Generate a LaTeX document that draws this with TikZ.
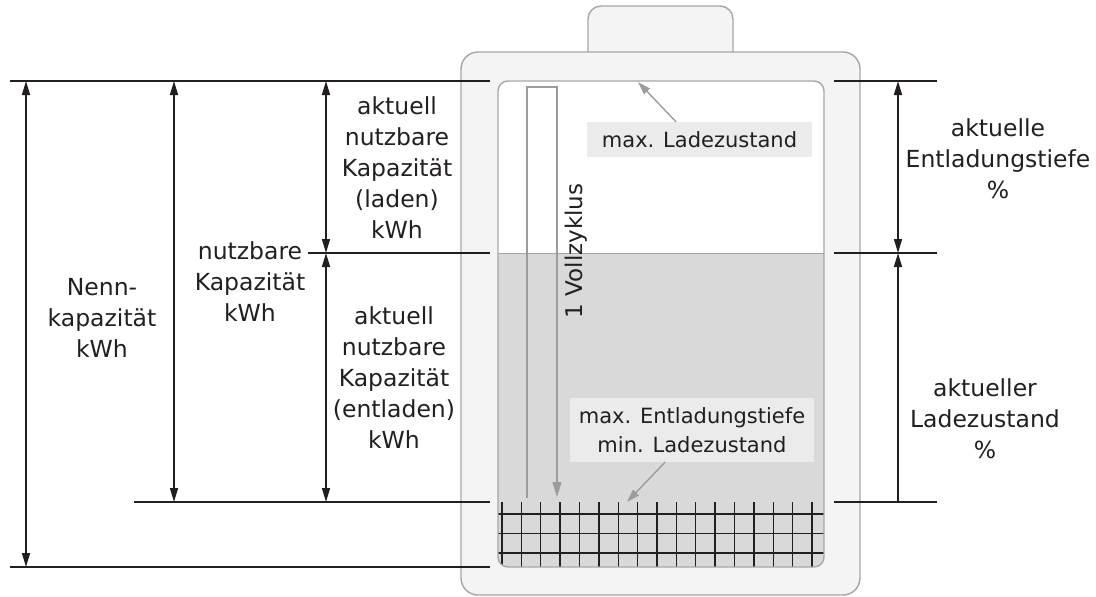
\documentclass[tikz,border=0pt]{standalone}
\usepackage{fontspec}
\setmainfont{DejaVu Sans}
\usetikzlibrary{arrows.meta}
\definecolor{ink}{HTML}{231F20}
\definecolor{casefill}{HTML}{F4F4F4}
\definecolor{caseline}{HTML}{A6A6A6}
\definecolor{charge}{HTML}{D9D9D9}
\definecolor{tagfill}{HTML}{EBEBEB}
\definecolor{pointer}{HTML}{9C9C9C}
\begin{document}
\begin{tikzpicture}[x=1pt,y=-1pt,
  dimline/.style={draw=ink,line width=1.6pt},
  dimboth/.style={draw=ink,line width=1.5pt,
    {Triangle[length=14pt,width=8pt]}-{Triangle[length=14pt,width=8pt]}},
  dimone/.style={draw=ink,line width=1.5pt,-{Triangle[length=14pt,width=8pt]}},
  dimlabel/.style={inner sep=0pt,align=center,text=ink,
    font=\fontsize{23.5pt}{31pt}\selectfont},
  tag/.style={fill=tagfill,inner sep=0pt,align=center,text=ink,
    font=\fontsize{21pt}{29pt}\selectfont},
  pointerarrow/.style={draw=pointer,line width=1.4pt,
    -{Triangle[length=13pt,width=8pt]}},
  gridline/.style={draw=ink,line width=1.4pt},
  caseedge/.style={draw=caseline,line width=1.4pt}]

\useasboundingbox (0,0) rectangle (1096,597);

% terminal cap and battery housing
\draw[caseedge,fill=casefill,rounded corners=13pt] (588,6) rectangle (733,70);
\draw[caseedge,fill=casefill,rounded corners=17pt] (461,52) rectangle (860,595);

% cell interior: empty part, charged part and reserve grid
\begin{scope}
  \clip[rounded corners=10pt] (498,81) rectangle (824,567);
  \fill[white] (498,81) rectangle (824,567);
  \fill[charge] (498,253.5) rectangle (824,567);
  \draw[caseedge] (498,253.5) -- (824,253.5);
  \foreach \i in {0,...,16}
    \draw[gridline] ({502+19.375*\i},502) -- ({502+19.375*\i},570);
  \foreach \yy in {514,533.5,553}
    \draw[gridline] (498,\yy) -- (824,\yy);
\end{scope}
\draw[caseedge,rounded corners=10pt] (498,81) rectangle (824,567);

% full cycle loop
\coordinate (vzStart) at (527,498);
\coordinate (vzUpL) at (527,87);
\coordinate (vzUpR) at (557,87);
\coordinate (vzEnd) at (557,497);
\draw[draw=pointer,line width=1.4pt,-{Triangle[length=15pt,width=9pt]}]
  (vzStart) -- (vzUpL) -- (vzUpR) -- (vzEnd);
\node[rotate=90,inner sep=0pt,text=ink,font=\fontsize{23pt}{28pt}\selectfont]
  (vz) at (576,251) {1 Vollzyklus};

% level tags with pointers
\node[tag,minimum width=225pt,minimum height=35pt] (maxsoc) at (699.5,139.5)
  {max. Ladezustand};
\coordinate (socTip) at (638,82);
\draw[pointerarrow] ([xshift=-23.5pt]maxsoc.north) -- (socTip);

\node[tag,minimum width=244pt,minimum height=64pt] (maxdod) at (692,430)
  {max. Entladungstiefe\\min. Ladezustand};
\coordinate (dodTip) at (627,502);
\draw[pointerarrow] ([xshift=-27pt]maxdod.south) -- (dodTip);

% reference levels, left side
\coordinate (topL) at (10,81);      \coordinate (topR) at (490,81);
\coordinate (midL) at (308,253);    \coordinate (midR) at (490,253);
\coordinate (lowL) at (134,502);    \coordinate (lowR) at (490,502);
\coordinate (botL) at (10,567);     \coordinate (botR) at (490,567);
\draw[dimline] (topL) -- (topR);
\draw[dimline] (midL) -- (midR);
\draw[dimline] (lowL) -- (lowR);
\draw[dimline] (botL) -- (botR);

% reference levels, right side
\coordinate (rtopL) at (834,81);    \coordinate (rtopR) at (937,81);
\coordinate (rmidL) at (834,253);   \coordinate (rmidR) at (937,253);
\coordinate (rlowL) at (834,502);   \coordinate (rlowR) at (937,502);
\draw[dimline] (rtopL) -- (rtopR);
\draw[dimline] (rmidL) -- (rmidR);
\draw[dimline] (rlowL) -- (rlowR);

% dimension arrows
\coordinate (nennTop) at (26,81);   \coordinate (nennBot) at (26,567);
\coordinate (nutzTop) at (174,81);  \coordinate (nutzBot) at (174,502);
\coordinate (akTop) at (326,81);    \coordinate (akMid) at (326,253);
\coordinate (akBot) at (326,502);
\coordinate (prTop) at (898,81);    \coordinate (prMid) at (898,253);
\coordinate (prBot) at (898,502);
\draw[dimboth] (nennTop) -- (nennBot);
\draw[dimboth] (nutzTop) -- (nutzBot);
\draw[dimboth] (akTop) -- (akMid);
\draw[dimboth] (akMid) -- (akBot);
\draw[dimboth] (prTop) -- (prMid);
\draw[dimone] (prBot) -- (prMid);

% dimension labels
\node[dimlabel] (nenn) at (102,318) {Nenn-\\kapazität\\kWh};
\node[dimlabel] (nutz) at (250,281.5) {nutzbare\\Kapazität\\kWh};
\node[dimlabel] (laden) at (397,167.5) {aktuell\\nutzbare\\Kapazität\\(laden)\\kWh};
\node[dimlabel] (entladen) at (394,378) {aktuell\\nutzbare\\Kapazität\\(entladen)\\kWh};
\node[dimlabel] (dod) at (998,158.5) {aktuelle\\Entladungstiefe\\\%};
\node[dimlabel] (soc) at (985,418.5) {aktueller\\Ladezustand\\\%};

\end{tikzpicture}
\end{document}
